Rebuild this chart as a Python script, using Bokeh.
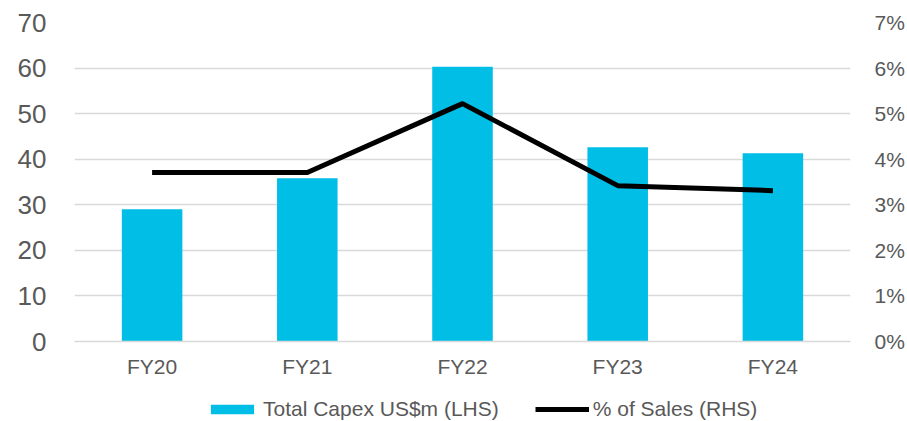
from bokeh.plotting import figure
from bokeh.layouts import column
from bokeh.models import (Range1d, LinearAxis, FixedTicker, NumeralTickFormatter,
                          Legend, LegendItem, FactorRange)
from bokeh.embed import file_html
from bokeh.resources import INLINE

categories = ["FY20", "FY21", "FY22", "FY23", "FY24"]
capex = [29.0, 35.8, 60.3, 42.6, 41.3]
pct_sales = [0.0371, 0.0371, 0.0522, 0.0342, 0.0331]
left_ticks = [0, 10, 20, 30, 40, 50, 60, 70]
right_ticks = [0, 0.01, 0.02, 0.03, 0.04, 0.05, 0.06, 0.07]
series_labels = ["Total Capex US$m (LHS)", "% of Sales (RHS)"]

FONT = "Liberation Sans"
TXT = "#595959"
GRID = "#D9D9D9"
BAR = "#00BEE6"

p = figure(width=907, height=385, x_range=FactorRange(*categories),
           y_range=Range1d(0, 70), output_backend="svg", toolbar_location=None,
           min_border_left=74, min_border_right=52, min_border_top=22,
           min_border_bottom=44)
p.outline_line_color = None
p.background_fill_color = "white"
p.border_fill_color = "white"
p.extra_y_ranges = {"pct": Range1d(0, 0.07)}

p.vbar(x=categories, top=capex, width=0.39, color=BAR, line_color=None)
p.line(x=categories, y=pct_sales, y_range_name="pct", line_color="black",
       line_width=5)

p.xgrid.grid_line_color = None
p.ygrid.grid_line_color = GRID
p.ygrid.grid_line_width = 1.5
p.ygrid.ticker = FixedTicker(ticks=left_ticks)

ly = p.yaxis[0]
ly.ticker = FixedTicker(ticks=left_ticks)
ly.axis_line_color = None
ly.major_tick_line_color = None
ly.minor_tick_line_color = None
ly.major_label_text_font = FONT
ly.major_label_text_font_size = "26px"
ly.major_label_text_color = TXT
ly.major_label_standoff = 22

ry = LinearAxis(y_range_name="pct", ticker=FixedTicker(ticks=right_ticks),
                formatter=NumeralTickFormatter(format="0%"))
ry.axis_line_color = None
ry.major_tick_line_color = None
ry.minor_tick_line_color = None
ry.major_label_text_font = FONT
ry.major_label_text_font_size = "21px"
ry.major_label_text_color = TXT
ry.major_label_standoff = 18
p.add_layout(ry, "right")

xa = p.xaxis[0]
xa.axis_line_color = GRID
xa.axis_line_width = 1.5
xa.major_tick_line_color = None
xa.minor_tick_line_color = None
xa.major_label_text_font = FONT
xa.major_label_text_font_size = "21px"
xa.major_label_text_color = TXT
xa.major_label_standoff = 7

# legend strip below the chart (zero-size swatch renderers, nothing visible drawn)
lg = figure(width=907, height=36, x_range=Range1d(0, 1), y_range=Range1d(0, 1),
            output_backend="svg", toolbar_location=None, min_border=0)
lg.axis.visible = False
lg.grid.visible = False
lg.outline_line_color = None
lg.background_fill_color = "white"
lg.border_fill_color = "white"
r_bar = lg.vbar(x=[0.5], top=[0.5], bottom=[0.5], width=0.0, color=BAR, line_color=None)
r_line = lg.line(x=[0.5, 0.5], y=[0.5, 0.5], line_color="black", line_width=5,
                 line_cap="butt")

legend = Legend(items=[LegendItem(label=series_labels[0], renderers=[r_bar]),
                       LegendItem(label=series_labels[1], renderers=[r_line])],
                orientation="horizontal", location=(131, 0),
                label_text_font=FONT, label_text_font_size="21px",
                label_text_color=TXT, glyph_width=54, glyph_height=12,
                spacing=36, label_standoff=4, border_line_color=None,
                background_fill_alpha=0, padding=0, margin=0)
lg.add_layout(legend, "center")

layout = column(p, lg, spacing=0)
open("out.html", "w").write(file_html(layout, INLINE))
